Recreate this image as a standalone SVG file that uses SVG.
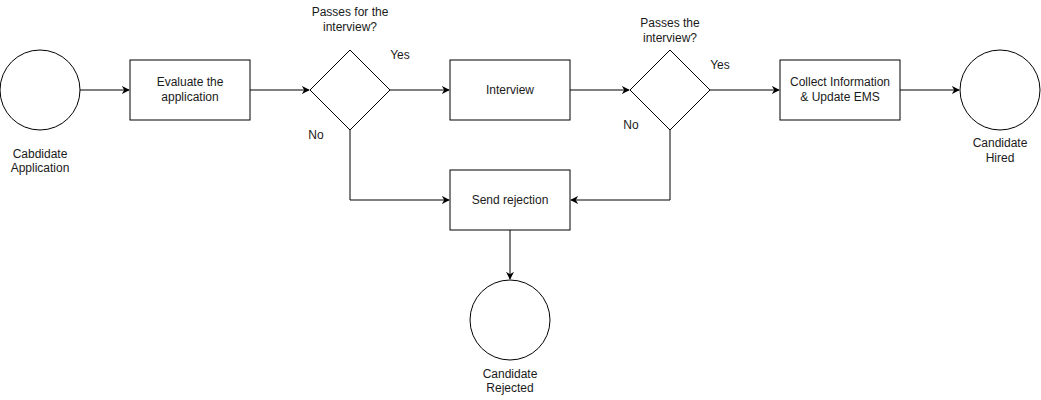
<svg xmlns="http://www.w3.org/2000/svg" width="1041" height="400" viewBox="0 0 1041 400">
<style>
.s{fill:#fff;stroke:#000;stroke-width:1}
.t{font-family:"Liberation Sans",Arial,sans-serif;font-size:12px;fill:#1a1a1a;text-anchor:middle}
.e{fill:none;stroke:#000;stroke-width:1}
</style>
<defs>
<marker id="a" viewBox="0 0 10 10" refX="9" refY="5" markerWidth="8" markerHeight="8" markerUnits="userSpaceOnUse" orient="auto">
<path d="M0,0 L10,5 L0,10 L3,5 Z" fill="#000"/>
</marker>
</defs>
<rect width="1041" height="400" fill="#fff"/>
<g id="connectors">
<path class="e" d="M80,90 H129" marker-end="url(#a)"/>
<path class="e" d="M250,90 H309" marker-end="url(#a)"/>
<path class="e" d="M390,90 H449" marker-end="url(#a)"/>
<path class="e" d="M570,90 H629" marker-end="url(#a)"/>
<path class="e" d="M710,90 H779" marker-end="url(#a)"/>
<path class="e" d="M900,90 H959" marker-end="url(#a)"/>
<path class="e" d="M350,130 V200 H449" marker-end="url(#a)"/>
<path class="e" d="M670,130 V200 H571" marker-end="url(#a)"/>
<path class="e" d="M510,230 V279" marker-end="url(#a)"/>
<text class="t" x="400" y="59">Yes</text>
<text class="t" x="316" y="139">No</text>
<text class="t" x="720" y="69">Yes</text>
<text class="t" x="631" y="129">No</text>
</g>
<g id="start">
<circle class="s" cx="40" cy="90" r="40"/>
<text class="t" x="40" y="158">Cabdidate</text>
<text class="t" x="40" y="172">Application</text>
</g>
<g id="evaluate">
<rect class="s" x="130" y="60" width="120" height="60"/>
<text class="t" x="190" y="86">Evaluate the</text>
<text class="t" x="190" y="101">application</text>
</g>
<g id="decision1">
<path class="s" d="M350,50 L390,90 L350,130 L310,90 Z"/>
<text class="t" x="350" y="16">Passes for the</text>
<text class="t" x="350" y="31">interview?</text>
</g>
<g id="interview">
<rect class="s" x="450" y="60" width="120" height="60"/>
<text class="t" x="510" y="94">Interview</text>
</g>
<g id="decision2">
<path class="s" d="M670,50 L710,90 L670,130 L630,90 Z"/>
<text class="t" x="670" y="27">Passes the</text>
<text class="t" x="670" y="42">interview?</text>
</g>
<g id="collect">
<rect class="s" x="780" y="60" width="120" height="60"/>
<text class="t" x="840" y="86">Collect Information</text>
<text class="t" x="840" y="101">&amp; Update EMS</text>
</g>
<g id="hired">
<circle class="s" cx="1000" cy="90" r="40"/>
<text class="t" x="1000" y="147">Candidate</text>
<text class="t" x="1000" y="162">Hired</text>
</g>
<g id="rejection">
<rect class="s" x="450" y="170" width="120" height="60"/>
<text class="t" x="510" y="204">Send rejection</text>
</g>
<g id="rejected">
<circle class="s" cx="510" cy="320" r="40"/>
<text class="t" x="510" y="378">Candidate</text>
<text class="t" x="510" y="392">Rejected</text>
</g>
</svg>
